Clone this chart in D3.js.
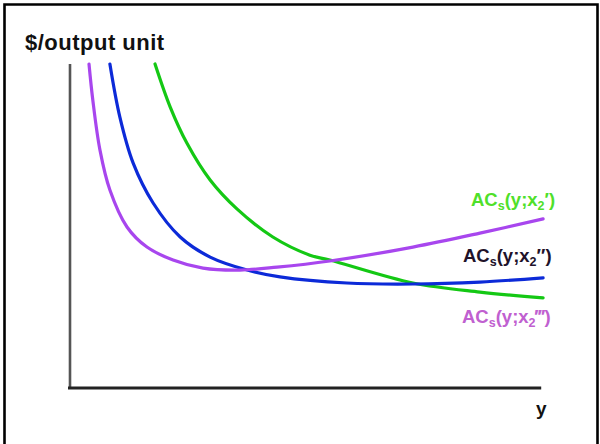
<!DOCTYPE html>
<html>
<head>
<meta charset="utf-8">
<script src="https://cdn.jsdelivr.net/npm/d3@7"></script>
<style>
  html, body { margin: 0; padding: 0; background: #fff; }
  svg { display: block; }
  text { font-family: "Liberation Sans", Arial, Helvetica, sans-serif; }
</style>
</head>
<body>
<svg id="chart" width="600" height="444"></svg>
<script>
// Short-run average cost curves for three levels of the fixed input x2.
// Output y on the horizontal axis, cost per unit on the vertical axis (arbitrary units 0–100).
const outputY = {
  x2p:   [17.9, 21.1, 24.6, 29.5, 35.2, 42.7, 50.5, 54.7, 72.2, 86.3, 99.6],
  x2pp:  [8.4, 10.5, 13.3, 17.5, 23.2, 29.5, 37.3, 44.2, 58.3, 72.2, 86.3, 99.6],
  x2ppp: [4.0, 4.8, 6.3, 8.4, 12.0, 16.2, 21.7, 28.0, 35.8, 43.6, 54.7, 72.2, 86.3, 99.6]
};
const unitCost = {
  x2p:   [100, 86.7, 75.6, 64.2, 55.2, 46.6, 41.0, 39.5, 32.4, 29.6, 27.8],
  x2pp:  [100, 83.6, 69.4, 57.1, 46.6, 40.4, 36.4, 34.3, 32.4, 32.1, 32.7, 34.0],
  x2ppp: [100, 88.9, 73.5, 61.1, 49.7, 43.5, 39.5, 37.0, 36.4, 37.3, 39.2, 43.5, 47.8, 52.2]
};
const seriesKeys = ["x2p", "x2pp", "x2ppp"];
const seriesColors = { x2p: "#14c814", x2pp: "#0c2ad8", x2ppp: "#a846ee" };

const axisTitleY = "$/output unit";
const axisTitleX = "y";

const svg = d3.select("#chart");

// outer frame
svg.append("path")
  .attr("d", "M4.5,450V4.5H597.5V450")
  .attr("fill", "none")
  .attr("stroke", "#000")
  .attr("stroke-width", 2.6);

const x = d3.scaleLinear().domain([0, 100]).range([70, 545]);
const y = d3.scaleLinear().domain([0, 100]).range([388, 64]);

// axes: plain lines, no ticks
svg.append("line")
  .attr("x1", x(0)).attr("x2", x(0))
  .attr("y1", y(100)).attr("y2", y(0))
  .attr("stroke", "#555").attr("stroke-width", 2.6);
svg.append("line")
  .attr("x1", x(0) - 2).attr("x2", x(99.2))
  .attr("y1", y(0)).attr("y2", y(0))
  .attr("stroke", "#222").attr("stroke-width", 3);

svg.append("text")
  .attr("x", 25).attr("y", 50)
  .attr("font-size", 22).attr("font-weight", 700)
  .attr("letter-spacing", 0.5)
  .attr("fill", "#111")
  .text(axisTitleY);

svg.append("text")
  .attr("x", x(99.2)).attr("y", 415)
  .attr("text-anchor", "middle")
  .attr("font-size", 19).attr("font-weight", 700)
  .attr("fill", "#111")
  .text(axisTitleX);

const line = d3.line()
  .x(d => x(d[0]))
  .y(d => y(d[1]))
  .curve(d3.curveCatmullRom.alpha(0.5));

seriesKeys.forEach(k => {
  const pts = d3.zip(outputY[k], unitCost[k]);
  svg.append("path")
    .datum(pts)
    .attr("d", line)
    .attr("fill", "none")
    .attr("stroke", seriesColors[k])
    .attr("stroke-width", 3.2)
    .attr("stroke-linecap", "round");
});

// curve labels: AC_s(y;x_2 with primes)
const labels = [
  { primes: "\u2032", color: "#4fe02a", x: 471, y: 206 },
  { primes: "\u2033", color: "#21122a", x: 463, y: 262 },
  { primes: "\u2034", color: "#c060d0", x: 462, y: 323 }
];
labels.forEach(l => {
  const t = svg.append("text")
    .attr("x", l.x).attr("y", l.y)
    .attr("font-size", 18.5).attr("font-weight", 700)
    .attr("fill", l.color);
  t.append("tspan").text("AC");
  t.append("tspan").attr("font-size", 12.5).attr("dy", 4).text("s");
  t.append("tspan").attr("dy", -4).text("(y;x");
  t.append("tspan").attr("font-size", 12.5).attr("dy", 4).text("2");
  t.append("tspan").attr("dy", -4).text(l.primes + ")");
});
</script>
</body>
</html>
